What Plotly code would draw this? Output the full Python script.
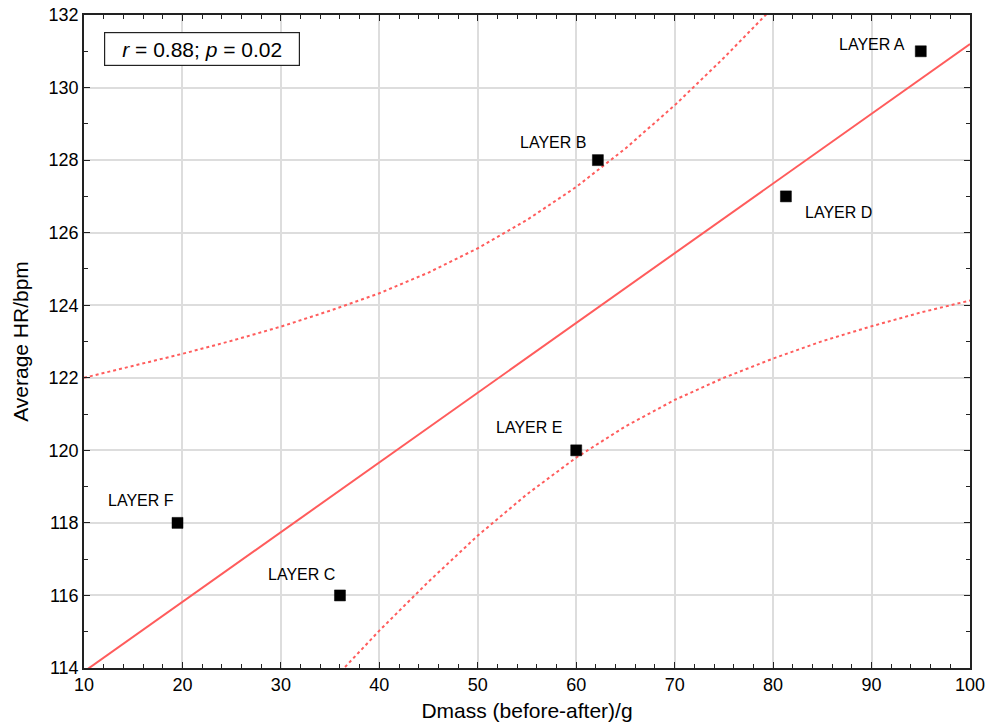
import plotly.graph_objects as go

# Data points
layers = ["LAYER A", "LAYER B", "LAYER C", "LAYER D", "LAYER E", "LAYER F"]
dmass = [95.0, 62.2, 36.0, 81.3, 60.0, 19.5]
hr = [131.0, 128.0, 116.0, 127.0, 120.0, 118.0]

# Regression line (endpoints)
fit_x = [10, 100]
fit_y = [113.9, 131.2]

# 95% confidence band
band_x = [10, 15, 20, 25, 30, 35, 40, 45, 50, 55, 60, 65, 70, 75, 80, 85, 90, 95, 100]
band_upper = [122.0, 122.32, 122.66, 123.02, 123.41, 123.85, 124.33, 124.9, 125.57, 126.35,
              127.26, 128.32, 129.51, 130.82, 132.21, 133.67, 135.18, 136.72, 138.3]
band_lower = [105.82, 107.42, 109.02, 110.58, 112.11, 113.59, 115.03, 116.38, 117.65, 118.79,
              119.8, 120.66, 121.39, 122.0, 122.53, 123.01, 123.42, 123.8, 124.13]

x_ticks = [10, 20, 30, 40, 50, 60, 70, 80, 90, 100]
y_ticks = [114, 116, 118, 120, 122, 124, 126, 128, 130, 132]

# label offsets in pixels (anchor, xshift, yshift)
label_style = [("right", -14, 7), ("right", -10, 18), ("right", -3, 21),
               ("left", 17, -16), ("right", -12, 23), ("right", -2, 22)]

RED = "#ff5c5c"
FONT = "Liberation Sans, Arial, sans-serif"

fig = go.Figure()
fig.add_trace(go.Scatter(x=band_x, y=band_upper, mode="lines",
                         line=dict(color=RED, width=2, dash="3px,3px"), hoverinfo="skip"))
fig.add_trace(go.Scatter(x=band_x, y=band_lower, mode="lines",
                         line=dict(color=RED, width=2, dash="3px,3px"), hoverinfo="skip"))
fig.add_trace(go.Scatter(x=fit_x, y=fit_y, mode="lines",
                         line=dict(color=RED, width=2), hoverinfo="skip"))
fig.add_trace(go.Scatter(x=dmass, y=hr, mode="markers", text=layers,
                         marker=dict(symbol="square", size=11, color="black",
                                     line=dict(color="black", width=0.5))))

for name, xv, yv, (anc, xs, ys) in zip(layers, dmass, hr, label_style):
    fig.add_annotation(x=xv, y=yv, xref="x", yref="y", text=name, showarrow=False,
                       xanchor=anc, yanchor="middle", xshift=xs, yshift=ys,
                       font=dict(size=16, color="black", family=FONT))

fig.add_annotation(x=0.0226, y=0.974, xref="paper", yref="paper",
                   text="<i>r</i> = 0.88; <i>p</i> = 0.02", showarrow=False,
                   xanchor="left", yanchor="top", width=190, height=28, borderpad=2,
                   bordercolor="#222", borderwidth=1.2, bgcolor="white",
                   font=dict(size=21, color="black", family=FONT))

axis_common = dict(showline=True, linecolor="#222", linewidth=1.5, mirror="ticks",
                   ticks="inside", ticklen=6, tickwidth=1, tickcolor="#222",
                   showgrid=True, gridcolor="#dddddd", gridwidth=1.5, zeroline=False,
                   automargin=False, ticklabelstandoff=0, ticklabeloverflow="allow",
                   tickfont=dict(size=18, color="black", family=FONT))

fig.update_xaxes(range=[10, 100], tickvals=x_ticks,
                 minor=dict(ticks="inside", dtick=2, tick0=10, ticklen=4, tickcolor="#222", showgrid=False),
                 title=dict(text="Dmass (before-after)/g", font=dict(size=21, color="black", family=FONT), standoff=9),
                 **axis_common)
fig.update_yaxes(range=[114, 132], tickvals=y_ticks,
                 minor=dict(ticks="inside", dtick=1, tick0=114, ticklen=4, tickcolor="#222", showgrid=False),
                 title=dict(text="Average HR/bpm", font=dict(size=21, color="black", family=FONT), standoff=14),
                 **axis_common)

fig.update_layout(width=999, height=728, margin=dict(l=84, r=29, t=15, b=60),
                  plot_bgcolor="white", paper_bgcolor="white", showlegend=False,
                  font=dict(family=FONT, color="black"))

fig.write_html("out.html", config={"displayModeBar": False},
               post_script="document.body.style.margin='0';document.body.style.overflow='hidden';")
